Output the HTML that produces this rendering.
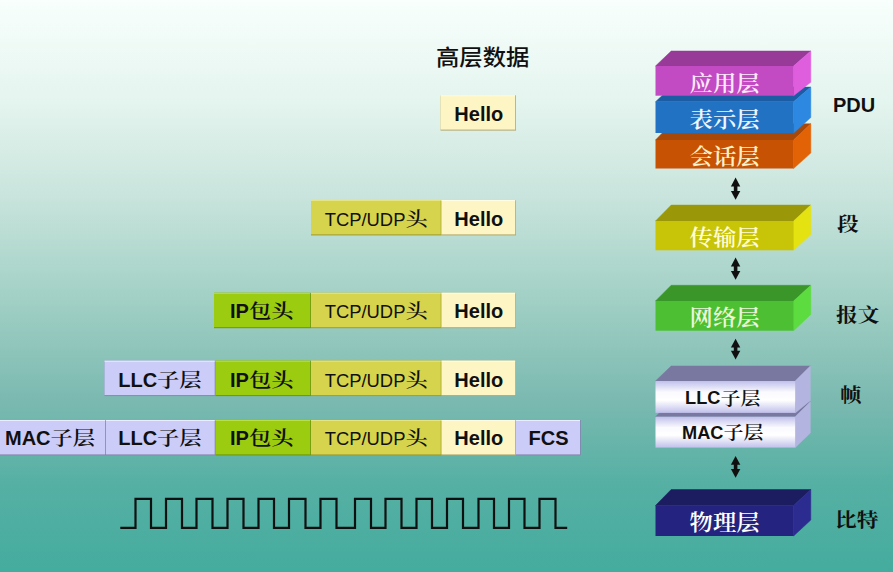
<!DOCTYPE html>
<html lang="zh-CN"><head><meta charset="utf-8"><title>数据封装</title>
<style>
html,body{margin:0;padding:0}
body{width:893px;height:572px;overflow:hidden;position:relative;font-family:"Liberation Sans","Noto Sans CJK SC",sans-serif;color:#101010;
background:linear-gradient(to bottom,#f8fffc 0%,#e4f4ee 18%,#c8e4dc 34.5%,#a0cfc4 53%,#7ab9b0 70.3%,#56b0a4 84.3%,#44ac9e 100%)}
svg{position:absolute;left:0;top:0}
.cs{font-family:"Liberation Serif","Noto Serif CJK SC",serif;font-weight:600}
.cb{font-family:"Liberation Sans","Noto Serif CJK SC",sans-serif;font-weight:700}
.lb{font-weight:bold;font-family:"Liberation Sans",sans-serif}
.ct{font-family:"Liberation Sans","Noto Serif CJK SC",sans-serif;fill:#101010}
.b{font-weight:bold}
.k{font-family:"Liberation Serif","Noto Serif CJK SC",serif;font-weight:500}
.kb{font-family:"Liberation Serif","Noto Serif CJK SC",serif;font-weight:600}
.t{position:absolute;white-space:nowrap;line-height:1.3}
.ttl{font-family:"Liberation Sans","Noto Sans CJK SC",sans-serif;font-weight:500;font-size:23px;transform:scale(1.015,0.95);transform-origin:0 85%}
.pdu{font-size:20px;font-weight:bold}
.s{font-family:"Liberation Serif","Noto Serif CJK SC",serif;font-size:21px;font-weight:700;transform:scale(1.03,0.94);transform-origin:0 85%}
</style></head><body>
<svg width="893" height="572" viewBox="0 0 893 572">
<defs><linearGradient id="lav" x1="0" y1="0" x2="0" y2="1"><stop offset="0" stop-color="#c0c0ec"/><stop offset="0.35" stop-color="#fafaff"/><stop offset="0.6" stop-color="#ffffff"/><stop offset="1" stop-color="#c0c0ec"/></linearGradient></defs>
<polygon points="655.5,140 671.2,123.8 810.8,123.8 793.6,140" fill="#a84808" stroke="#a84808" stroke-width="0.5"/><polygon points="793.6,140 810.8,123.8 810.8,153 793.6,168.5" fill="#e26206" stroke="#e26206" stroke-width="0.5"/><rect x="655.5" y="140" width="138.10000000000002" height="28.5" fill="#c85204"/><text transform="translate(724.55,164.4) scale(1.015,0.92)" text-anchor="middle" class="cs" font-size="23" fill="#fff2c8">会话层</text>
<polygon points="655.5,101.8 671.2,87.1 810.8,87.1 793.6,101.8" fill="#1c5ca4" stroke="#1c5ca4" stroke-width="0.5"/><polygon points="793.6,101.8 810.8,87.1 810.8,117.5 793.6,133" fill="#2c88e0" stroke="#2c88e0" stroke-width="0.5"/><rect x="655.5" y="101.8" width="138.10000000000002" height="31.200000000000003" fill="#2272c4"/><text transform="translate(724.55,127) scale(1.015,0.92)" text-anchor="middle" class="cs" font-size="23" fill="#eef6ff">表示层</text>
<polygon points="655.5,66 671.2,51 810.8,51 793.6,66" fill="#983a98" stroke="#983a98" stroke-width="0.5"/><polygon points="793.6,66 810.8,51 810.8,82.2 793.6,95.7" fill="#de5ede" stroke="#de5ede" stroke-width="0.5"/><rect x="655.5" y="66" width="138.10000000000002" height="29.700000000000003" fill="#c24ac2"/><text transform="translate(724.55,91.1) scale(1.015,0.92)" text-anchor="middle" class="cs" font-size="23" fill="#fdeafd">应用层</text>
<polygon points="655.5,221 671.2,205.1 810.8,205.1 793.6,221" fill="#9a9808" stroke="#9a9808" stroke-width="0.5"/><polygon points="793.6,221 810.8,205.1 810.8,234.5 793.6,250.3" fill="#e4e210" stroke="#e4e210" stroke-width="0.5"/><rect x="655.5" y="221" width="138.10000000000002" height="29.30000000000001" fill="#c8c408"/><text transform="translate(724.55,245) scale(1.015,0.92)" text-anchor="middle" class="cs" font-size="23" fill="#fffcd4">传输层</text>
<polygon points="655.5,301 671.2,285.3 810.8,285.3 793.6,301" fill="#3a9628" stroke="#3a9628" stroke-width="0.5"/><polygon points="793.6,301 810.8,285.3 810.8,314.4 793.6,330.7" fill="#5cdc3e" stroke="#5cdc3e" stroke-width="0.5"/><rect x="655.5" y="301" width="138.10000000000002" height="29.69999999999999" fill="#4cc032"/><text transform="translate(724.55,325.3) scale(1.015,0.92)" text-anchor="middle" class="cs" font-size="23" fill="#ecf6dc">网络层</text>
<polygon points="655.5,416.7 671.2,401.8 810.3,401.8 795.2,416.7" fill="#7878a0" stroke="#7878a0" stroke-width="0.5"/><polygon points="795.2,416.7 810.3,401.8 810.3,433 795.2,447.6" fill="#b4b4e0" stroke="#b4b4e0" stroke-width="0.5"/><rect x="655.5" y="416.7" width="139.70000000000005" height="30.900000000000034" fill="url(#lav)"/><text x="682.08" y="438.8" class="ct b" font-size="18.2">MAC</text><text transform="translate(723.53,439.2) scale(1.02,0.9)" class="ct kb" font-size="19.6">子层</text>
<polygon points="655.5,381 671.2,366 810.3,366 795.2,381" fill="#7878a0" stroke="#7878a0" stroke-width="0.5"/><polygon points="795.2,381 810.3,366 810.3,400.7 795.2,412.9" fill="#b4b4e0" stroke="#b4b4e0" stroke-width="0.5"/><rect x="655.5" y="381" width="139.70000000000005" height="31.899999999999977" fill="url(#lav)"/><text x="685.12" y="404.4" class="ct b" font-size="18.2">LLC</text><text transform="translate(720.50,404.79999999999995) scale(1.02,0.9)" class="ct kb" font-size="19.6">子层</text>
<polygon points="655.5,505.5 671.2,489.5 810.8,489.5 793.6,505.5" fill="#1c1c60" stroke="#1c1c60" stroke-width="0.5"/><polygon points="793.6,505.5 810.8,489.5 810.8,520 793.6,536" fill="#2c2c90" stroke="#2c2c90" stroke-width="0.5"/><rect x="655.5" y="505.5" width="138.10000000000002" height="30.5" fill="#242480"/><text transform="translate(724.55,530.4) scale(1.015,0.92)" text-anchor="middle" class="cs" font-size="23" fill="#fff">物理层</text>
<polygon points="735.6,177.6 740.3000000000001,186.4 730.9,186.4" fill="#101010"/><polygon points="735.6,199.7 740.3000000000001,190.89999999999998 730.9,190.89999999999998" fill="#101010"/><rect x="733.8000000000001" y="185.4" width="3.6" height="6.499999999999993" fill="#101010"/>
<polygon points="735.6,257.6 740.3000000000001,266.40000000000003 730.9,266.40000000000003" fill="#101010"/><polygon points="735.6,279.7 740.3000000000001,270.9 730.9,270.9" fill="#101010"/><rect x="733.8000000000001" y="265.40000000000003" width="3.6" height="6.4999999999999645" fill="#101010"/>
<polygon points="735.6,338.7 740.3000000000001,347.5 730.9,347.5" fill="#101010"/><polygon points="735.6,359.5 740.3000000000001,350.7 730.9,350.7" fill="#101010"/><rect x="733.8000000000001" y="346.5" width="3.6" height="5.20000000000001" fill="#101010"/>
<polygon points="735.6,456 740.3000000000001,464.8 730.9,464.8" fill="#101010"/><polygon points="735.6,477.7 740.3000000000001,468.9 730.9,468.9" fill="#101010"/><rect x="733.8000000000001" y="463.8" width="3.6" height="6.099999999999987" fill="#101010"/>
<path d="M120.3,527.8 H135.5 V498.8 H151 V527.8 H166 V498.8 H182 V527.8 H196.5 V498.8 H212.5 V527.8 H227.5 V498.8 H243.5 V527.8 H258.5 V498.8 H274 V527.8 H289 V498.8 H305.5 V527.8 H320.5 V498.8 H336.5 V527.8 H355 V498.8 H371 V527.8 H385.5 V498.8 H401.5 V527.8 H416.5 V498.8 H432 V527.8 H447 V498.8 H463 V527.8 H478.5 V498.8 H494 V527.8 H509 V498.8 H524.5 V527.8 H539.5 V498.8 H555.5 V527.8 H567.2" fill="none" stroke="#101010" stroke-width="2.2"/><rect x="440.5" y="95.2" width="75.5" height="35.4" fill="#b0a870"/><rect x="440.5" y="95.2" width="74.7" height="34.4" fill="#fdf6c4"/><rect x="440.5" y="95.2" width="74.7" height="1" fill="#fffce4"/><text x="454.35" y="120.8" class="ct b" font-size="20">Hello</text>
<rect x="311" y="200" width="130.5" height="35.4" fill="#9c9a34"/><rect x="311" y="200" width="129.7" height="34.4" fill="#d6d44c"/><rect x="311" y="200" width="129.7" height="1" fill="#e6e480"/><text x="324.69" y="225.7" class="ct r" font-size="18.4">TCP/UDP</text><text transform="translate(405.46,226.1) scale(1.03,0.9)" class="ct k" font-size="21.6">头</text><rect x="441.5" y="200" width="74.5" height="35.4" fill="#b0a870"/><rect x="441.5" y="200" width="73.7" height="34.4" fill="#fdf6c4"/><rect x="441.5" y="200" width="73.7" height="1" fill="#fffce4"/><text x="454.35" y="225.7" class="ct b" font-size="20">Hello</text>
<rect x="214.0" y="292.8" width="97.0" height="35.4" fill="#6e9410"/><rect x="214.0" y="292.8" width="96.2" height="34.4" fill="#9ccc10"/><rect x="214.0" y="292.8" width="96.2" height="1" fill="#b8e040"/><text x="230.00" y="317.9" class="ct b" font-size="20">IP</text><text transform="translate(248.90,318.29999999999995) scale(1.03,0.9)" class="ct kb" font-size="21.6">包头</text><rect x="311" y="292.8" width="130.5" height="35.4" fill="#9c9a34"/><rect x="311" y="292.8" width="129.7" height="34.4" fill="#d6d44c"/><rect x="311" y="292.8" width="129.7" height="1" fill="#e6e480"/><text x="324.69" y="317.9" class="ct r" font-size="18.4">TCP/UDP</text><text transform="translate(405.46,318.29999999999995) scale(1.03,0.9)" class="ct k" font-size="21.6">头</text><rect x="441.5" y="292.8" width="74.5" height="35.4" fill="#b0a870"/><rect x="441.5" y="292.8" width="73.7" height="34.4" fill="#fdf6c4"/><rect x="441.5" y="292.8" width="73.7" height="1" fill="#fffce4"/><text x="454.35" y="317.9" class="ct b" font-size="20">Hello</text>
<rect x="104.5" y="360.7" width="111.0" height="35.4" fill="#8484b0"/><rect x="104.5" y="360.7" width="110.2" height="34.4" fill="#ccccf8"/><rect x="104.5" y="360.7" width="110.2" height="1" fill="#ececff"/><text x="118.21" y="386.8" class="ct b" font-size="20">LLC</text><text transform="translate(157.09,387.2) scale(1.03,0.9)" class="ct kb" font-size="21.6">子层</text><rect x="215.5" y="360.7" width="95.5" height="35.4" fill="#6e9410"/><rect x="215.5" y="360.7" width="94.7" height="34.4" fill="#9ccc10"/><rect x="215.5" y="360.7" width="94.7" height="1" fill="#b8e040"/><text x="230.00" y="386.8" class="ct b" font-size="20">IP</text><text transform="translate(248.90,387.2) scale(1.03,0.9)" class="ct kb" font-size="21.6">包头</text><rect x="311" y="360.7" width="130.5" height="35.4" fill="#9c9a34"/><rect x="311" y="360.7" width="129.7" height="34.4" fill="#d6d44c"/><rect x="311" y="360.7" width="129.7" height="1" fill="#e6e480"/><text x="324.69" y="386.8" class="ct r" font-size="18.4">TCP/UDP</text><text transform="translate(405.46,387.2) scale(1.03,0.9)" class="ct k" font-size="21.6">头</text><rect x="441.5" y="360.7" width="74.5" height="35.4" fill="#b0a870"/><rect x="441.5" y="360.7" width="73.7" height="34.4" fill="#fdf6c4"/><rect x="441.5" y="360.7" width="73.7" height="1" fill="#fffce4"/><text x="454.35" y="386.8" class="ct b" font-size="20">Hello</text>
<rect x="0" y="420" width="106" height="35.4" fill="#8484b0"/><rect x="0" y="420" width="105.2" height="34.4" fill="#ccccf8"/><rect x="0" y="420" width="105.2" height="1" fill="#ececff"/><text x="4.98" y="444.9" class="ct b" font-size="20">MAC</text><text transform="translate(50.53,445.29999999999995) scale(1.03,0.9)" class="ct kb" font-size="21.6">子层</text><rect x="106" y="420" width="109.5" height="35.4" fill="#8484b0"/><rect x="106" y="420" width="108.7" height="34.4" fill="#ccccf8"/><rect x="106" y="420" width="108.7" height="1" fill="#ececff"/><text x="118.21" y="444.9" class="ct b" font-size="20">LLC</text><text transform="translate(157.09,445.29999999999995) scale(1.03,0.9)" class="ct kb" font-size="21.6">子层</text><rect x="215.5" y="420" width="95.5" height="35.4" fill="#6e9410"/><rect x="215.5" y="420" width="94.7" height="34.4" fill="#9ccc10"/><rect x="215.5" y="420" width="94.7" height="1" fill="#b8e040"/><text x="230.00" y="444.9" class="ct b" font-size="20">IP</text><text transform="translate(248.90,445.29999999999995) scale(1.03,0.9)" class="ct kb" font-size="21.6">包头</text><rect x="311" y="420" width="130.5" height="35.4" fill="#9c9a34"/><rect x="311" y="420" width="129.7" height="34.4" fill="#d6d44c"/><rect x="311" y="420" width="129.7" height="1" fill="#e6e480"/><text x="324.69" y="444.9" class="ct r" font-size="18.4">TCP/UDP</text><text transform="translate(405.46,445.29999999999995) scale(1.03,0.9)" class="ct k" font-size="21.6">头</text><rect x="441.5" y="420" width="74.5" height="35.4" fill="#b0a870"/><rect x="441.5" y="420" width="73.7" height="34.4" fill="#fdf6c4"/><rect x="441.5" y="420" width="73.7" height="1" fill="#fffce4"/><text x="454.35" y="444.9" class="ct b" font-size="20">Hello</text><rect x="516" y="420" width="64.79999999999995" height="35.4" fill="#8484b0"/><rect x="516" y="420" width="63.99999999999996" height="34.4" fill="#ccccf8"/><rect x="516" y="420" width="63.99999999999996" height="1" fill="#ececff"/><text x="528.50" y="444.9" class="ct b" font-size="20">FCS</text>

</svg>


<div class="t ttl" style="left:435.6px;top:43.2px">高层数据</div>
<div class="t pdu" style="left:833px;top:91.6px">PDU</div>
<div class="t s" style="left:837px;top:211px">段</div>
<div class="t s" style="left:836px;top:302px">报文</div>
<div class="t s" style="left:839.5px;top:382px">帧</div>
<div class="t s" style="left:834.6px;top:507px">比特</div>

</body></html>
